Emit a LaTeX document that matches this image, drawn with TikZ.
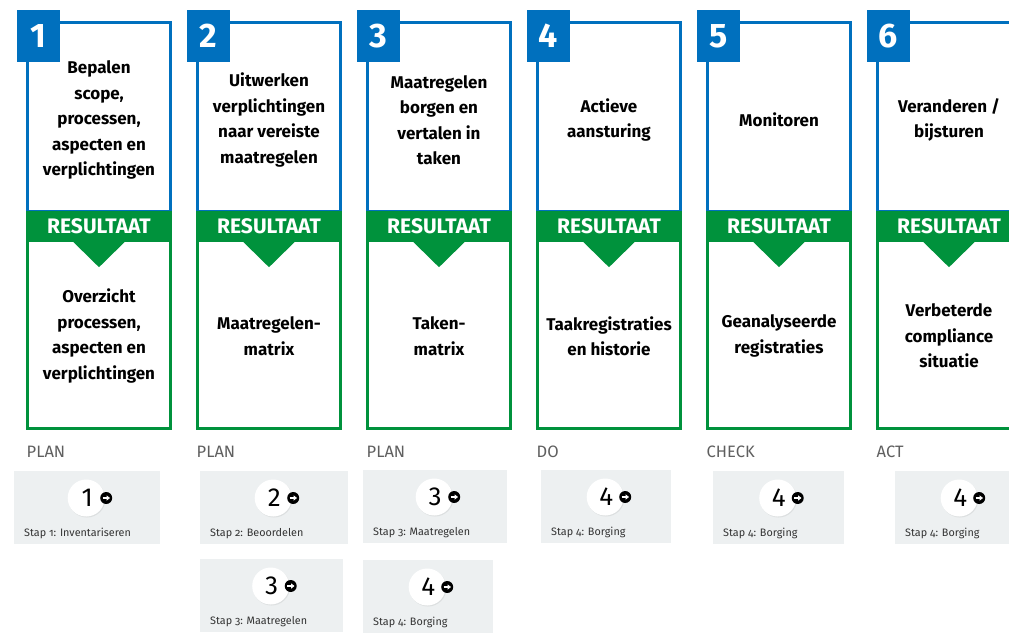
\documentclass[tikz,border=0pt]{standalone}
\usepackage{fontspec}
\setmainfont{Fira Sans}
\newfontfamily\stapfont{Fira Sans}[Numbers=OldStyle]
\usetikzlibrary{arrows.meta,shadows}

\definecolor{stepblue}{RGB}{0,112,190}
\definecolor{stepgreen}{RGB}{0,146,60}
\definecolor{cardgray}{RGB}{237,240,241}
\definecolor{phasegray}{RGB}{95,95,95}

\tikzset{
  taakbox/.style={draw=stepblue, line width=3pt, minimum width=143pt, minimum height=189pt, inner sep=0pt},
  uitbox/.style={taakbox, draw=stepgreen, minimum height=188pt},
  boxtext/.style={align=center, inner sep=0pt, font=\fontsize{17}{25.5}\selectfont\bfseries},
  bandbox/.style={fill=stepgreen, minimum width=146pt, minimum height=30pt, inner sep=0pt,
    text=white, font=\fontsize{21}{21}\selectfont\bfseries},
  numbox/.style={fill=stepblue, minimum width=43pt, minimum height=52pt, inner sep=0pt,
    text=white, font=\fontsize{34}{34}\selectfont\bfseries},
  fasetext/.style={anchor=west, inner sep=0pt, text=phasegray, font=\fontsize{16.5}{17}\selectfont},
  card/.style={fill=cardgray, minimum height=73pt, inner sep=0pt},
  disc/.style={circle, fill=white, minimum size=37pt, inner sep=0pt,
    drop shadow={opacity=0.15, shadow xshift=0.8pt, shadow yshift=-1pt}},
  cijfer/.style={inner sep=0pt, font=\fontsize{26}{26}\selectfont},
  pijl/.style={circle, fill=black, minimum size=12pt, inner sep=0pt},
  pijlje/.style={white, line width=1.2pt, -{Triangle[length=3.4pt,width=5pt]}},
  staptext/.style={inner sep=0pt, text=black!80, font=\stapfont\fontsize{10.8}{11}\selectfont}
}

\begin{document}
\begin{tikzpicture}[x=1pt, y=-1pt]
  \useasboundingbox (0,0) rectangle (1009,632);
  % Six steps: task above, result below
  \foreach \n/\taak/\uit/\fase [count=\i from 0] in {
    1/{Bepalen\\scope,\\processen,\\aspecten en\\verplichtingen}/{Overzicht\\processen,\\aspecten en\\verplichtingen}/PLAN,
    2/{Uitwerken\\verplichtingen\\naar vereiste\\maatregelen}/{Maatregelen-\\matrix}/PLAN,
    3/{Maatregelen\\borgen en\\vertalen in\\taken}/{Taken-\\matrix}/PLAN,
    4/{Actieve\\aansturing}/{Taakregistraties\\en historie}/DO,
    5/{Monitoren}/{Geanalyseerde\\registraties}/CHECK,
    6/{Veranderen /\\bijsturen}/{Verbeterde\\compliance\\situatie}/ACT}{
    \pgfmathsetmacro\xl{27.5+170*\i}
    \pgfmathsetmacro\xm{\xl+71.5}
    \node[taakbox] (taak\n) at (\xm,117) {};
    \node[boxtext] (taaktekst\n) at (\xm,120) {\taak};
    \node[uitbox] (uit\n) at (\xm,334) {};
    \node[boxtext] (uittekst\n) at (\xm,336) {\uit};
    \node[bandbox] (band\n) at (\xm,226) {RESULTAAT};
    \fill[stepgreen] ([xshift=-27pt,yshift=0.5pt]band\n.south) -- ([xshift=27pt,yshift=0.5pt]band\n.south)
      -- ([yshift=-26pt]band\n.south) -- cycle;
    \node[numbox] (num\n) at (\xl+11,36) {\n};
    \node[fasetext] (fase\n) at (\xl-1,452) {\fase};
  }
  % Cards with the steps of the method
  \foreach \cx/\cy/\cw/\cn/\ct [count=\k] in {
    14/471/146/1/Inventariseren, 200/471/148/2/Beoordelen, 200/559/143/3/Maatregelen,
    363/470/144/3/Maatregelen, 363/560/130/4/Borging, 541/470/130/4/Borging,
    713/471/131/4/Borging, 895/471/130/4/Borging}{
    \node[card, minimum width=\cw pt, anchor=north west] (kaart\k) at (\cx,\cy) {};
    \node[disc] (schijf\k) at ([xshift=-1pt,yshift=-27pt]kaart\k.north) {};
    \node[cijfer] (cijfer\k) at ([xshift=1pt]schijf\k.center) {\cn};
    \node[pijl] (pijl\k) at ([xshift=20pt]schijf\k.center) {};
    \draw[pijlje] ([xshift=-3.6pt]pijl\k.center) -- ([xshift=3.8pt]pijl\k.center);
    \node[staptext, anchor=base west] (stap\k) at ([xshift=10pt,yshift=-65pt]kaart\k.north west) {Stap \cn: \ct};
  }
\end{tikzpicture}
\end{document}
